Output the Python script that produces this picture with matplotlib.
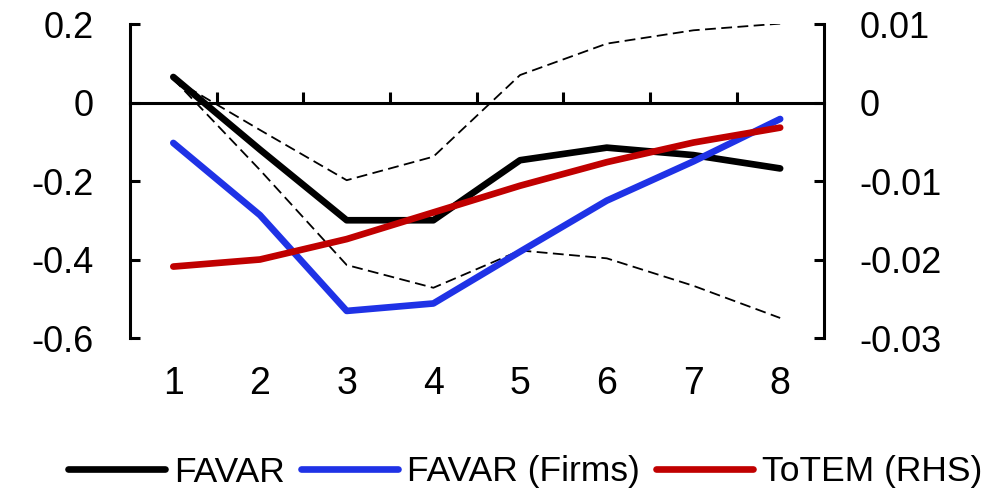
import numpy as np
import matplotlib.pyplot as plt
plt.rcParams.update({'font.size': 26, 'font.family': 'Liberation Sans'})

# dados
periodo = [1, 2, 3, 4, 5, 6, 7, 8]
favar = [0.065, -0.12, -0.30, -0.30, -0.147, -0.115, -0.134, -0.168]
favar_firms = [-0.103, -0.287, -0.531, -0.512, -0.38, -0.25, -0.15, -0.042]
banda_sup = [0.06, -0.07, -0.198, -0.138, 0.07, 0.15, 0.184, 0.201]
banda_inf = [0.06, -0.172, -0.414, -0.472, -0.377, -0.397, -0.467, -0.549]
totem = [-0.0209, -0.0200, -0.0174, -0.0140, -0.0106, -0.0076, -0.0051, -0.0032]  # eixo direito

yticks_esq = [-0.6, -0.4, -0.2, 0, 0.2]
ylabels_esq = ['-0.6', '-0.4', '-0.2', '0', '0.2']
yticks_dir = [-0.03, -0.02, -0.01, 0, 0.01]
ylabels_dir = ['-0.03', '-0.02', '-0.01', '0', '0.01']

fig = plt.figure(figsize=(9.86, 4.92), dpi=100)
ax = fig.add_axes([0.1318, 0.3130, 0.7034, 0.6382])
ax2 = ax.twinx()

estilo = dict(lw=4.8, solid_capstyle='round', solid_joinstyle='round')
ax.plot(periodo, banda_sup, color='k', lw=1.3, ls=(0, (6, 3)))
ax.plot(periodo, banda_inf, color='k', lw=1.3, ls=(0, (6, 3)))
l1, = ax.plot(periodo, favar, color='k', label='FAVAR', **estilo)
l2, = ax.plot(periodo, favar_firms, color='#1f32e6', label='FAVAR (Firms)', **estilo)
l3, = ax2.plot(periodo, totem, color='#c00000', label='ToTEM (RHS)', **estilo)

ax.set_xlim(0.5, 8.5)
ax.set_ylim(-0.6, 0.2)
ax2.set_ylim(-0.03, 0.01)

# eixo x no zero
ax.spines['bottom'].set_position(('data', 0))
ax.spines['top'].set_visible(False)
ax.spines['right'].set_visible(False)
for s in ['top', 'bottom', 'left']:
    ax2.spines[s].set_visible(False)
for s in ax.spines.values():
    s.set_linewidth(2.2)
ax2.spines['right'].set_linewidth(2.2)

ax.set_xticks(periodo)
ax.set_xticks([1.5, 2.5, 3.5, 4.5, 5.5, 6.5, 7.5], minor=True)
ax.tick_params(axis='x', which='major', length=0, pad=190, labelsize=27)
ax.tick_params(axis='x', which='minor', direction='in', length=8, width=2.2)

ax.set_yticks(yticks_esq)
ax.set_yticklabels(ylabels_esq)
ax2.set_yticks(yticks_dir)
ax2.set_yticklabels(ylabels_dir)
ax.tick_params(axis='y', direction='in', length=7, width=2.2, pad=26)
ax2.tick_params(axis='y', direction='in', length=7, width=2.2, pad=26)

fig.legend(handles=[l1, l2, l3], loc='center left', bbox_to_anchor=(68/986, 1 - 472/492),
           ncol=3, frameon=False, fontsize=25.5, handlelength=2.75, handletextpad=0.25,
           columnspacing=0.45, borderaxespad=0, borderpad=0)

plt.savefig('out.png', dpi=100)
